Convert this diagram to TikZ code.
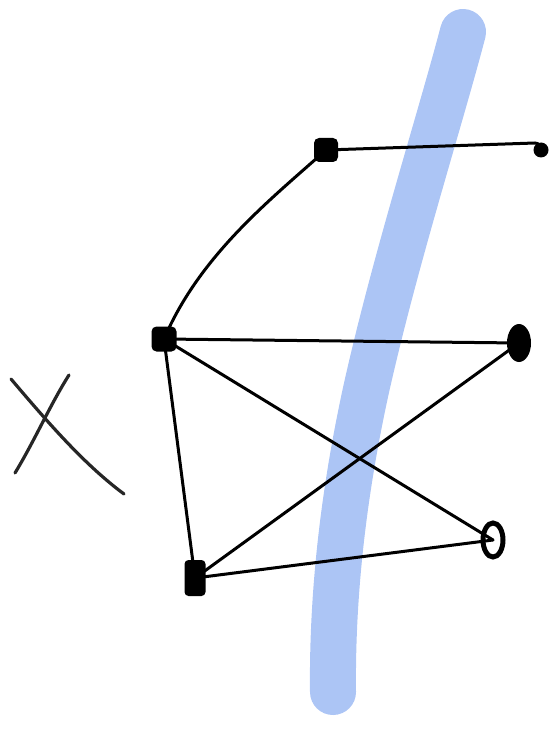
\documentclass[tikz,border=0pt]{standalone}
\usetikzlibrary{shapes.geometric}
\definecolor{hiblue}{RGB}{172,197,245}
\tikzset{
  edge/.style={draw=black, line width=3pt, line cap=round},
  dot/.style={fill=black, inner sep=0pt, minimum size=#1, circle},
  mark x/.style={draw=black!85, line width=3.2pt, line cap=round},
}
\begin{document}
\begin{tikzpicture}[x=1pt,y=-1pt]
\useasboundingbox (0,0) rectangle (553,730);
% blue stroke
\draw[hiblue, line width=46pt, line cap=round]
  (463,32) .. controls (440,120) and (395,260) .. (366,390)
  .. controls (342,500) and (332,600) .. (333,692);
% nodes
\node[dot=24pt, rectangle, rounded corners=5pt] (A) at (326,150) {};
\node[dot=15pt] (B) at (541,150) {};
\node[dot=25pt, rectangle, rounded corners=5pt] (C) at (164,339) {};
\node[dot=22pt, ellipse, minimum width=24pt, minimum height=38pt] (D) at (519,343) {};
\node[draw=black, line width=5pt, ellipse, inner sep=0pt, minimum width=20pt, minimum height=34pt] (E) at (493,540) {};
\node[dot=18pt, rectangle, rounded corners=4pt, minimum width=21pt, minimum height=36pt] (F) at (195,578) {};
% edges
\draw[edge] (A.center) -- (535,143) to[out=0,in=90] (B.center);
\draw[edge] (A.center) .. controls (270,200) and (200,255) .. (C.center);
\draw[edge] (C.center) -- (D.center);
\draw[edge] (C.center) -- (E.center);
\draw[edge] (C.center) -- (F.center);
\draw[edge] (F.center) -- (D.center);
\draw[edge] (F.center) -- (E.center);
% X mark
\coordinate (x1) at (11,379);
\coordinate (x2) at (124,494);
\coordinate (x3) at (69,375);
\coordinate (x4) at (15,473);
\draw[mark x] (x1) .. controls (50,425) and (85,465) .. (x2);
\draw[mark x] (x3) .. controls (50,405) and (35,440) .. (x4);
\end{tikzpicture}
\end{document}
